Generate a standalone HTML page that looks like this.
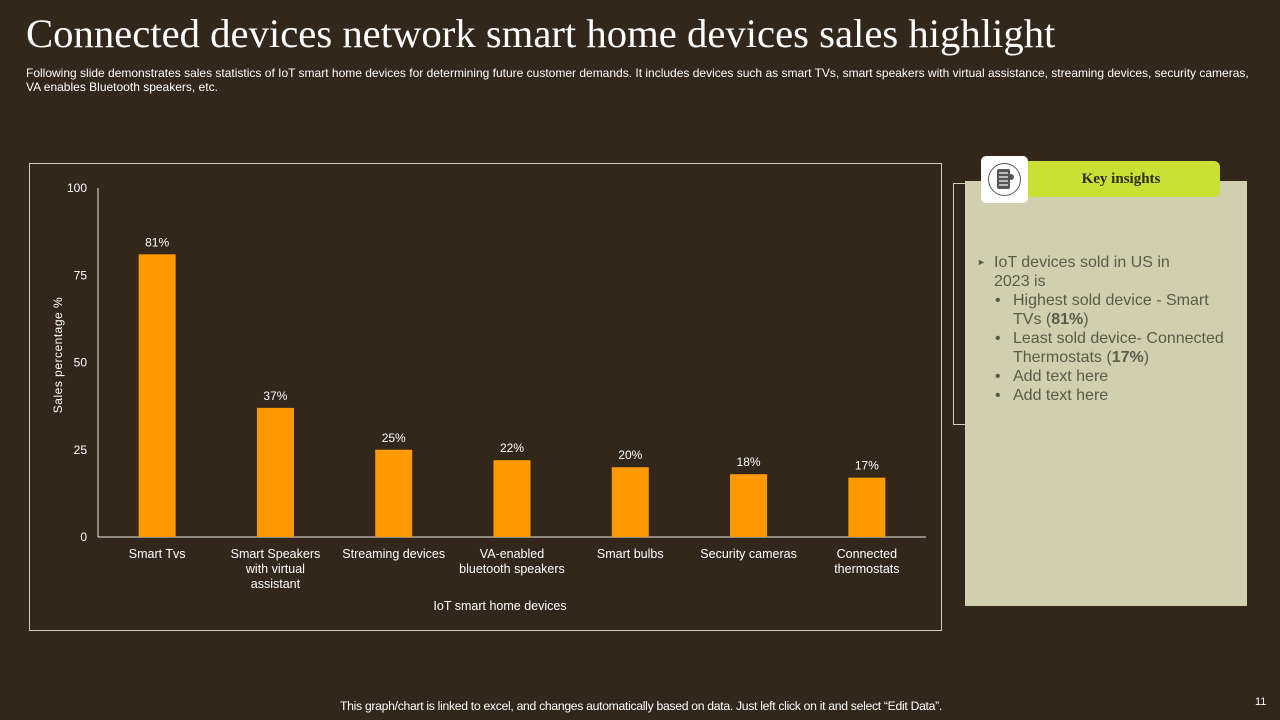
<!DOCTYPE html>
<html><head><meta charset="utf-8"><style>
body{margin:0;width:1280px;height:720px;background:#33271c;overflow:hidden;font-family:"Liberation Sans",sans-serif;position:relative;color:#fff}
.abs{position:absolute}
#title{left:26px;top:10px;font-family:"Liberation Serif",serif;font-size:40.7px;color:#fff;white-space:nowrap}
#sub{left:26px;top:66px;font-size:12px;line-height:14px;color:#fff;white-space:nowrap;letter-spacing:0px}
#foot{left:0;width:1282px;top:699px;text-align:center;font-size:12.2px;letter-spacing:-0.3px}
#pg{left:1255px;top:696px;font-size:11px}
#panel{left:965px;top:181px;width:282px;height:425px;background:#d0d0b0}
#frame{left:953px;top:183px;width:12px;height:240px;border:1px solid #cfcfbf;border-right:none}
#hdr{left:1022px;top:161px;width:198px;height:36px;background:#c9e035;border-radius:0 6px 6px 0;font-family:"Liberation Serif",serif;font-weight:bold;font-size:15px;color:#2d2b15;line-height:36px;text-align:center}
#icon{left:981px;top:156px;width:47px;height:47px;background:#fff;border-radius:5px}
#txt{left:977px;top:253px;width:260px;font-size:16px;line-height:19px;color:#5a5a4a}
#txt .l2{padding-left:36px;position:relative}
#txt .l2:before{content:"•";position:absolute;left:18px}
</style></head><body>
<div id="title" class="abs">Connected devices network smart home devices sales highlight</div>
<div id="sub" class="abs">Following slide demonstrates sales statistics of IoT smart home devices for determining future customer demands. It includes devices such as smart TVs, smart speakers with virtual assistance, streaming devices, security cameras,<br>VA  enables Bluetooth speakers, etc.</div>
<svg class="abs" style="left:0;top:0" width="960" height="640">
<rect x="29.5" y="163.5" width="912" height="467" fill="none" stroke="#cfcfbf"/>
<g id="g"></g>
</svg>
<div id="frame" class="abs"></div>
<div id="panel" class="abs"></div>
<div id="hdr" class="abs">Key insights</div>
<div id="icon" class="abs">
<svg width="47" height="47"><circle cx="23.5" cy="23.5" r="16" fill="none" stroke="#555" stroke-width="1"/><rect x="16" y="13" width="13" height="20" rx="2" fill="#555"/><g stroke="#fff" stroke-width="1.2"><line x1="18" y1="17" x2="27" y2="17"/><line x1="18" y1="21" x2="27" y2="21"/><line x1="18" y1="25" x2="27" y2="25"/><line x1="18" y1="29" x2="27" y2="29"/></g><circle cx="30" cy="21" r="3" fill="#555"/></svg></div>
<div id="txt" class="abs">
<div style="position:relative;padding-left:17px"><span style="position:absolute;left:0;font-size:9px">►</span>IoT devices sold in US in<br>2023 is</div>
<div class="l2">Highest sold device - Smart TVs (<b>81%</b>)</div>
<div class="l2">Least sold device- Connected Thermostats (<b>17%</b>)</div>
<div class="l2">Add text here</div>
<div class="l2">Add text here</div>
</div>
<div id="foot" class="abs">This graph/chart is linked to excel, and changes automatically based on data. Just left click on it and select “Edit Data”.</div>
<div id="pg" class="abs">11</div>
<script>
const categories=[["Smart Tvs"],["Smart Speakers","with virtual","assistant"],["Streaming devices"],["VA-enabled","bluetooth speakers"],["Smart bulbs"],["Security cameras"],["Connected","thermostats"]];
const values=[81,37,25,22,20,18,17];
const yTicks=[0,25,50,75,100];
const X0=98,X1=926,Y0=537,Y1=188;
const band=(X1-X0)/categories.length;
const xc=i=>X0+band*(i+0.5);
const y=v=>Y0-(v/100)*(Y0-Y1);
const g=document.getElementById('g');
const NS="http://www.w3.org/2000/svg";
function mk(t,a,txt){const e=document.createElementNS(NS,t);for(const k in a)e.setAttribute(k,a[k]);if(txt!=null)e.textContent=txt;g.appendChild(e);return e;}
let e;
e=mk('line',{x1:X0,y1:Y1,x2:X0,y2:Y0,stroke:'#e8e8e0','stroke-width':1});


e=mk('line',{x1:X0,y1:Y0,x2:X1,y2:Y0,stroke:'#e8e8e0','stroke-width':1});


yTicks.forEach(t=>{e=mk('text',{x:87,y:y(t)+4,'text-anchor':'end','font-size':12,fill:'#fff'},t);

});
values.forEach((v,i)=>{
e=mk('rect',{x:xc(i)-18.5,y:y(v),width:37,height:Y0-y(v),fill:'#ff9900'});


e=mk('text',{x:xc(i),y:y(v)-8,'text-anchor':'middle','font-size':12,fill:'#fff'},v+'%');


categories[i].forEach((ln,j)=>{e=mk('text',{x:xc(i),y:558+j*15,'text-anchor':'middle','font-size':12.5,fill:'#fff'},ln);

});
});
e=mk('text',{x:500,y:610,'text-anchor':'middle','font-size':12.5,fill:'#fff'},'IoT  smart home devices');


e=mk('text',{x:0,y:0,'text-anchor':'middle','font-size':12,fill:'#fff',transform:'translate(62,355) rotate(-90)','letter-spacing':'0.5'},'Sales percentage  %');


</script>
</body></html>
